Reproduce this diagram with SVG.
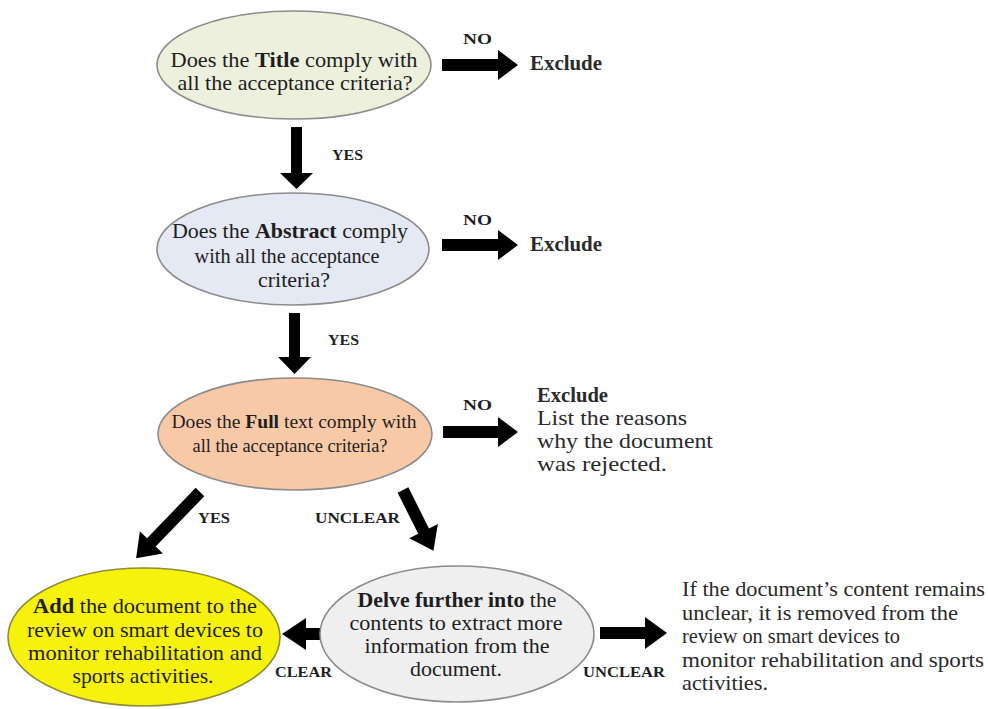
<svg xmlns="http://www.w3.org/2000/svg" width="988" height="709" viewBox="0 0 988 709">
<style>
  .node { stroke: #8c8c8c; stroke-width: 1.6; }
  .t { font-family: "Liberation Serif", "Times New Roman", serif; font-size: 21px; fill: #1e1e1e; text-anchor: middle; }
  .tt { font-family: "Liberation Serif", "Times New Roman", serif; font-size: 19.5px; fill: #1e1e1e; text-anchor: middle; }
  .b { font-weight: bold; }
  .lbl { font-family: "Liberation Serif", "Times New Roman", serif; font-size: 15.5px; font-weight: bold; fill: #1e1e1e; }
  .side { font-family: "Liberation Serif", "Times New Roman", serif; font-size: 21px; fill: #2a2a2a; }
  .arrow { fill: #000; }
</style>
<rect width="988" height="709" fill="#ffffff"/>

<g id="connectors">
  <polygon class="arrow" points="291,127 302,127 302,173 313,173 296.5,189 280,173 291,173"/>
  <polygon class="arrow" points="289,313 300,313 300,357 311,357 294.5,374 278,357 289,357"/>
  <polygon class="arrow" points="442,59 498,59 498,50 518,65 498,80 498,71 442,71"/>
  <polygon class="arrow" points="442,239 498,239 498,230 518,245 498,260 498,251 442,251"/>
  <polygon class="arrow" points="443,426 498,426 498,417 518,432 498,447 498,438 443,438"/>
  <polygon class="arrow" transform="translate(200,492) rotate(134)" points="0,-6 70,-6 70,-16 92,0 70,16 70,6 0,6"/>
  <polygon class="arrow" transform="translate(403,490) rotate(63.4)" points="0,-6 46,-6 46,-16 68,0 46,16 46,6 0,6"/>
  <polygon class="arrow" points="320,628 306,628 306,618 282,634 306,650 306,640 320,640"/>
  <polygon class="arrow" points="600,627 645,627 645,617 667,633 645,649 645,639 600,639"/>

  <text class="lbl" x="463" y="44" textLength="29" lengthAdjust="spacingAndGlyphs">NO</text>
  <text class="lbl" x="463" y="225" textLength="29" lengthAdjust="spacingAndGlyphs">NO</text>
  <text class="lbl" x="463" y="410" textLength="29" lengthAdjust="spacingAndGlyphs">NO</text>
  <text class="lbl" x="332" y="160" textLength="31" lengthAdjust="spacingAndGlyphs">YES</text>
  <text class="lbl" x="328" y="345" textLength="31" lengthAdjust="spacingAndGlyphs">YES</text>
  <text class="lbl" x="198" y="523" textLength="32" lengthAdjust="spacingAndGlyphs">YES</text>
  <text class="lbl" x="315" y="523" textLength="85" lengthAdjust="spacingAndGlyphs">UNCLEAR</text>
  <text class="lbl" x="275" y="677" textLength="57" lengthAdjust="spacingAndGlyphs">CLEAR</text>
  <text class="lbl" x="583" y="677" textLength="82" lengthAdjust="spacingAndGlyphs">UNCLEAR</text>
</g>

<g id="node-title">
  <ellipse class="node" cx="294" cy="65" rx="137" ry="54" fill="#EDF0DC"/>
  <text class="t" x="294" y="67" textLength="247" lengthAdjust="spacingAndGlyphs"><tspan>Does the </tspan><tspan class="b">Title</tspan><tspan> comply with</tspan></text>
  <text class="t" x="295" y="90" textLength="235" lengthAdjust="spacingAndGlyphs">all the acceptance criteria?</text>
</g>

<g id="node-abstract">
  <ellipse class="node" cx="293" cy="249" rx="136" ry="56" fill="#E4E9F3"/>
  <text class="t" x="290" y="238" textLength="236" lengthAdjust="spacingAndGlyphs"><tspan>Does the </tspan><tspan class="b">Abstract</tspan><tspan> comply</tspan></text>
  <text class="t" x="287" y="263" textLength="185" lengthAdjust="spacingAndGlyphs">with all the acceptance</text>
  <text class="t" x="294" y="287" textLength="72" lengthAdjust="spacingAndGlyphs">criteria?</text>
</g>

<g id="node-fulltext">
  <ellipse class="node" cx="295" cy="434" rx="137" ry="56" fill="#F8C9A6"/>
  <text class="tt" x="294" y="428" textLength="245" lengthAdjust="spacingAndGlyphs"><tspan>Does the </tspan><tspan class="b">Full</tspan><tspan> text comply with</tspan></text>
  <text class="tt" x="290" y="452" textLength="195" lengthAdjust="spacingAndGlyphs">all the acceptance criteria?</text>
</g>

<g id="exclude-1">
  <text class="side b" x="530" y="70" textLength="72" lengthAdjust="spacingAndGlyphs">Exclude</text>
</g>
<g id="exclude-2">
  <text class="side b" x="530" y="251" textLength="72" lengthAdjust="spacingAndGlyphs">Exclude</text>
</g>
<g id="exclude-3">
  <text class="side b" x="537" y="402" textLength="71" lengthAdjust="spacingAndGlyphs">Exclude</text>
  <text class="side" x="537" y="425" textLength="150" lengthAdjust="spacingAndGlyphs">List the reasons</text>
  <text class="side" x="537" y="448" textLength="176" lengthAdjust="spacingAndGlyphs">why the document</text>
  <text class="side" x="537" y="471" textLength="130" lengthAdjust="spacingAndGlyphs">was rejected.</text>
</g>

<g id="node-add">
  <ellipse cx="144" cy="637" rx="136" ry="69" fill="#F6F20C" stroke="#8f8c3c" stroke-width="1.6"/>
  <text class="t" x="145" y="613" textLength="224" lengthAdjust="spacingAndGlyphs"><tspan class="b">Add</tspan><tspan> the document to the</tspan></text>
  <text class="t" x="145" y="637" textLength="236" lengthAdjust="spacingAndGlyphs">review on smart devices to</text>
  <text class="t" x="145" y="660" textLength="234" lengthAdjust="spacingAndGlyphs">monitor rehabilitation and</text>
  <text class="t" x="143" y="683" textLength="141" lengthAdjust="spacingAndGlyphs">sports activities.</text>
</g>

<g id="node-delve">
  <ellipse class="node" cx="457" cy="634" rx="137" ry="68" fill="#EFEFEF"/>
  <text class="t" x="457" y="607" textLength="199" lengthAdjust="spacingAndGlyphs"><tspan class="b">Delve further into</tspan><tspan> the</tspan></text>
  <text class="t" x="456" y="630" textLength="213" lengthAdjust="spacingAndGlyphs">contents to extract more</text>
  <text class="t" x="457" y="653" textLength="185" lengthAdjust="spacingAndGlyphs">information from the</text>
  <text class="t" x="456" y="676" textLength="92" lengthAdjust="spacingAndGlyphs">document.</text>
</g>

<g id="removed-note">
  <text class="side" x="682" y="596" textLength="303" lengthAdjust="spacingAndGlyphs">If the document’s content remains</text>
  <text class="side" x="682" y="620" textLength="276" lengthAdjust="spacingAndGlyphs">unclear, it is removed from the</text>
  <text class="side" x="682" y="643" textLength="218" lengthAdjust="spacingAndGlyphs">review on smart devices to</text>
  <text class="side" x="682" y="667" textLength="302" lengthAdjust="spacingAndGlyphs">monitor rehabilitation and sports</text>
  <text class="side" x="682" y="690" textLength="86" lengthAdjust="spacingAndGlyphs">activities.</text>
</g>
</svg>
